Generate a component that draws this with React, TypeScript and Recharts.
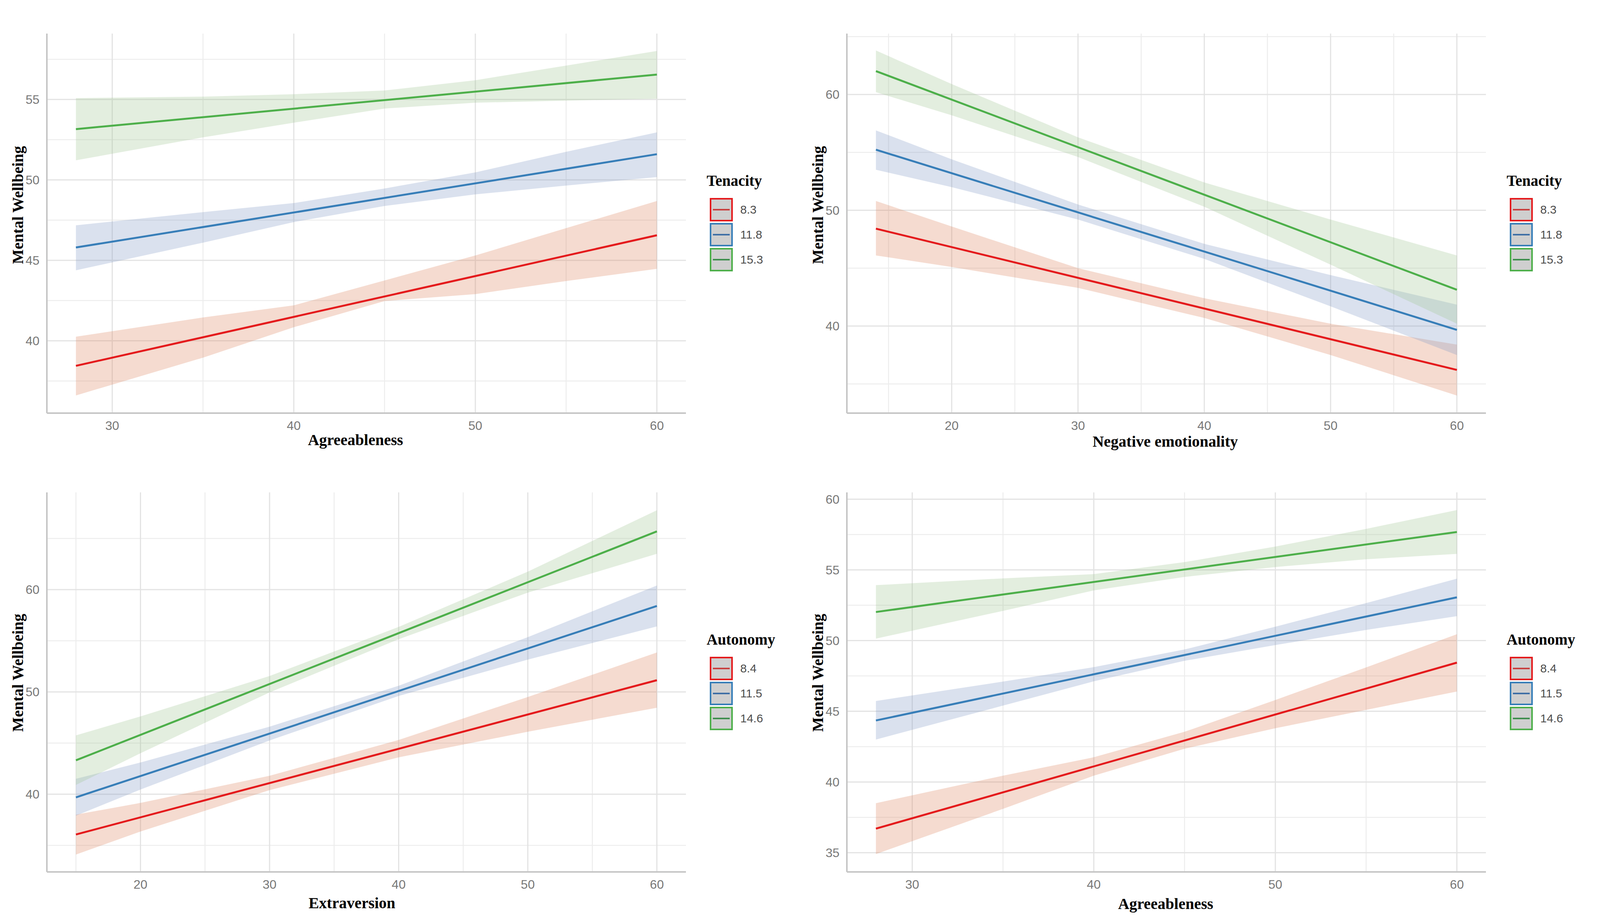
import React from "react";
import {
  ComposedChart, Area, Line, XAxis, YAxis, CartesianGrid, Label
} from "recharts";

// series colours (lines) and ribbon fills
const lineColors = ["#E41A1C", "#377EB8", "#4DAF4A"];
const keyLineColors = ["#C8403F", "#3F6FA5", "#3F8E4E"];
const ribbonColors = ["#DE8762", "#849BC6", "#A2C694"];

// ---- panel A: Agreeableness x Tenacity ----
const tenacityLevels = ["8.3", "11.8", "15.3"];
const agreeX = [28, 35, 40, 45, 50, 55, 60];
const aRedLo = [36.6, 38.95, 40.84, 42.47, 42.9, 43.71, 44.47];
const aRedHi = [40.25, 41.45, 42.2, 43.75, 45.3, 47.0, 48.69];
const aBlueLo = [44.38, 46.1, 47.38, 48.38, 49.1, 49.65, 50.18];
const aBlueHi = [47.18, 48.0, 48.56, 49.47, 50.47, 51.75, 52.96];
const aGreenLo = [51.22, 52.65, 53.56, 54.44, 54.8, 54.93, 55.05];
const aGreenHi = [55.09, 55.18, 55.33, 55.56, 56.2, 57.11, 58.02];
const aFit = [[38.44, 46.56], [45.8, 51.6], [53.16, 56.55]];

// ---- panel B: Negative emotionality x Tenacity ----
const negX = [14, 20, 30, 40, 50, 60];
const bRedLo = [46.1, 45.1, 43.3, 40.7, 37.5, 34.0];
const bRedHi = [50.8, 48.6, 45.0, 42.4, 40.2, 38.4];
const bBlueLo = [53.5, 52.0, 49.2, 45.8, 41.7, 37.5];
const bBlueHi = [56.9, 54.4, 50.5, 47.1, 44.4, 41.85];
const bGreenLo = [60.2, 58.2, 54.6, 50.3, 45.3, 40.2];
const bGreenHi = [63.8, 60.9, 56.3, 52.4, 49.2, 46.1];
const bFit = [[48.41, 36.21], [55.23, 39.67], [62.02, 43.13]];

// ---- panel C: Extraversion x Autonomy ----
const autonomyLevels = ["8.4", "11.5", "14.6"];
const extraX = [15, 20, 30, 40, 50, 60];
const cRedLo = [34.1, 36.35, 40.4, 43.6, 46.1, 48.45];
const cRedHi = [38.0, 39.15, 41.8, 45.3, 49.5, 53.85];
const cBlueLo = [37.9, 40.45, 45.25, 49.6, 53.15, 56.4];
const cBlueHi = [41.5, 43.1, 46.6, 50.6, 55.35, 60.4];
const cGreenLo = [40.9, 44.0, 49.95, 55.15, 59.7, 63.5];
const cGreenHi = [45.75, 47.6, 51.55, 56.35, 61.75, 67.75];
const cFit = [[36.06, 51.14], [39.69, 58.4], [43.31, 65.69]];

// ---- panel D: Agreeableness x Autonomy ----
const dRedLo = [34.9, 38.1, 40.45, 42.35, 43.8, 45.1, 46.4];
const dRedHi = [38.5, 40.45, 41.75, 43.55, 45.8, 48.1, 50.45];
const dBlueLo = [43.0, 45.4, 47.12, 48.57, 49.68, 50.75, 51.73];
const dBlueHi = [45.73, 47.1, 48.12, 49.37, 50.98, 52.65, 54.38];
const dGreenLo = [50.14, 52.1, 53.55, 54.5, 55.2, 55.75, 56.13];
const dGreenHi = [53.92, 54.4, 54.7, 55.55, 56.65, 57.9, 59.23];
const dFit = [[36.7, 48.44], [44.35, 53.06], [52.02, 57.68]];

// the captured page is 4096px wide, so horizontal sizes are squeezed to fit
const SX = 4096 / 4317;
const sx = (v: number) => Math.round(v * SX);

const W = 2048;
const H = 1175;

const serifTitle = {
  fontFamily: '"Liberation Serif", "Times New Roman", serif',
  fontWeight: 700,
  fontSize: 40,
  fill: "#000",
};

function buildRows(xs: number[], lo: number[][], hi: number[][]) {
  return xs.map((x, i) => ({
    x,
    r0: [lo[0][i], hi[0][i]],
    r1: [lo[1][i], hi[1][i]],
    r2: [lo[2][i], hi[2][i]],
  }));
}

function Panel(props: any) {
  const {
    left, top, xs, lo, hi, fit, xDomain, xTicks, xMinor, yDomain, yTicks, yMinor,
    xTitle, xTitleX, xTitleY, yTitleY, legendTitle, levels,
  } = props;
  const rows = buildRows(xs, lo, hi);
  const x0 = xs[0];
  const x1 = xs[xs.length - 1];
  const tickStyle = { fill: "#777777", fontSize: 32, fontFamily: '"Liberation Sans", Arial, sans-serif' };
  const yt = sx(62);

  return (
    <div style={{ position: "absolute", left, top, width: W, height: H }}>
      <ComposedChart width={W} height={H} data={rows} margin={{ top: 86, right: W - sx(1851), bottom: 0, left: 0 }}>
        <CartesianGrid stroke="#EDEDED" strokeWidth={2.5} verticalValues={xMinor} horizontalValues={yMinor} />
        <CartesianGrid stroke="#E3E3E3" strokeWidth={3} verticalValues={xTicks} horizontalValues={yTicks} />
        <XAxis
          type="number" dataKey="x" domain={xDomain} ticks={xTicks} allowDataOverflow
          height={117} tickLine={false} tickSize={0} tickMargin={20}
          axisLine={{ stroke: "#C6C6C6", strokeWidth: 4 }} tick={tickStyle}
        >
          <Label
            value={xTitle}
            content={() => (
              <text x={sx(xTitleX)} y={xTitleY} textAnchor="middle" style={serifTitle}>{xTitle}</text>
            )}
          />
        </XAxis>
        <YAxis
          type="number" domain={yDomain} ticks={yTicks} allowDataOverflow
          width={sx(127)} tickLine={false} tickSize={0} tickMargin={19}
          axisLine={{ stroke: "#C6C6C6", strokeWidth: 4 }} tick={tickStyle}
        >
          <Label
            value="Mental Wellbeing"
            content={() => (
              <text x={yt} y={yTitleY} textAnchor="middle" transform={`rotate(-90, ${yt}, ${yTitleY})`} style={serifTitle}>
                Mental Wellbeing
              </text>
            )}
          />
        </YAxis>
        {[0, 1, 2].map((k) => (
          <Area
            key={"rib" + k} type="linear" dataKey={"r" + k} stroke="none"
            fill={ribbonColors[k]} fillOpacity={0.3} isAnimationActive={false}
          />
        ))}
        {[0, 1, 2].map((k) => (
          <Line
            key={"fit" + k} type="linear" dataKey="y"
            data={[{ x: x0, y: fit[k][0] }, { x: x1, y: fit[k][1] }]}
            stroke={lineColors[k]} strokeWidth={5} dot={false} activeDot={false}
            isAnimationActive={false}
          />
        ))}
      </ComposedChart>

      <div style={{
        position: "absolute", left: sx(1907), top: 443, fontFamily: '"Liberation Serif", "Times New Roman", serif',
        fontWeight: 700, fontSize: 39, lineHeight: "40px", color: "#000", whiteSpace: "nowrap",
      }}>
        {legendTitle}
      </div>
      {levels.map((lab: string, k: number) => (
        <div key={lab} style={{ position: "absolute", left: sx(1915), top: 507 + k * 64, height: 60 }}>
          <div style={{
            position: "absolute", left: 0, top: 0, width: 59, height: 60, boxSizing: "border-box",
            border: `4px solid ${lineColors[k]}`, background: "#CFCFCF",
          }}>
            <div style={{
              position: "absolute", left: 4, top: 24, width: 43, height: 4, background: keyLineColors[k],
            }} />
          </div>
          <div style={{
            position: "absolute", left: 78, top: 0, height: 60, lineHeight: "60px",
            fontFamily: '"Liberation Sans", Arial, sans-serif', fontSize: 30, color: "#4D4D4D",
            whiteSpace: "nowrap",
          }}>
            {lab}
          </div>
        </div>
      ))}
    </div>
  );
}

export default function App() {
  return (
    <div style={{ position: "relative", width: 2 * W, height: 2351, background: "#fff", overflow: "hidden" }}>
      <style>{"body{margin:0}"}</style>
      <Panel
        left={0} top={0} xs={agreeX}
        lo={[aRedLo, aBlueLo, aGreenLo]} hi={[aRedHi, aBlueHi, aGreenHi]} fit={aFit}
        xDomain={[26.4, 61.6]} xTicks={[30, 40, 50, 60]} xMinor={[35, 45, 55]}
        yDomain={[35.5, 59.1]} yTicks={[40, 45, 50, 55]} yMinor={[37.5, 42.5, 47.5, 52.5, 57.5]}
        xTitle="Agreeableness" xTitleX={959} xTitleY={1140} yTitleY={525}
        legendTitle="Tenacity" levels={tenacityLevels}
      />
      <Panel
        left={W} top={0} xs={negX}
        lo={[bRedLo, bBlueLo, bGreenLo]} hi={[bRedHi, bBlueHi, bGreenHi]} fit={bFit}
        xDomain={[11.7, 62.3]} xTicks={[20, 30, 40, 50, 60]} xMinor={[15, 25, 35, 45, 55]}
        yDomain={[32.48, 65.26]} yTicks={[40, 50, 60]} yMinor={[35, 45, 55, 65]}
        xTitle="Negative emotionality" xTitleX={985} xTitleY={1144} yTitleY={525}
        legendTitle="Tenacity" levels={tenacityLevels}
      />
      <Panel
        left={0} top={1175} xs={extraX}
        lo={[cRedLo, cBlueLo, cGreenLo]} hi={[cRedHi, cBlueHi, cGreenHi]} fit={cFit}
        xDomain={[12.75, 62.25]} xTicks={[20, 30, 40, 50, 60]} xMinor={[15, 25, 35, 45, 55]}
        yDomain={[32.4, 69.5]} yTicks={[40, 50, 60]} yMinor={[35, 45, 55, 65]}
        xTitle="Extraversion" xTitleX={950} xTitleY={1151} yTitleY={548}
        legendTitle="Autonomy" levels={autonomyLevels}
      />
      <Panel
        left={W} top={1175} xs={agreeX}
        lo={[dRedLo, dBlueLo, dGreenLo]} hi={[dRedHi, dBlueHi, dGreenHi]} fit={dFit}
        xDomain={[26.4, 61.6]} xTicks={[30, 40, 50, 60]} xMinor={[35, 45, 55]}
        yDomain={[33.64, 60.48]} yTicks={[35, 40, 45, 50, 55, 60]} yMinor={[37.5, 42.5, 47.5, 52.5, 57.5]}
        xTitle="Agreeableness" xTitleX={986} xTitleY={1153} yTitleY={548}
        legendTitle="Autonomy" levels={autonomyLevels}
      />
    </div>
  );
}
